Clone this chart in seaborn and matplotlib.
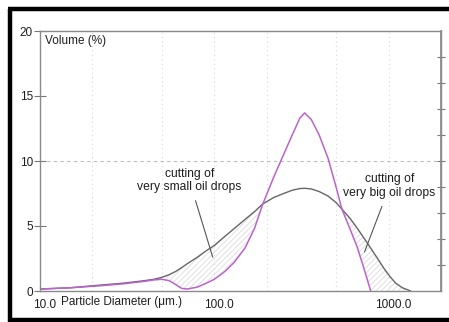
import matplotlib

matplotlib.use("Agg")

import matplotlib.pyplot as plt
import matplotlib.transforms as mtransforms
import numpy as np
import pandas as pd
import seaborn as sns
from matplotlib.lines import Line2D
from matplotlib.ticker import FixedLocator, NullFormatter

# particle size distribution
diameter = [10, 15, 22, 30, 40, 45, 50, 55, 60, 65, 70, 80, 90, 100, 115, 130, 150,
            170, 190, 220, 250, 280, 310, 330, 360, 400, 450, 500, 540, 600, 660, 720,
            790, 860, 940, 1020, 1100, 1200, 1340]
volume_before = [0.15, 0.25, 0.45, 0.6, 0.8, 0.9, 1.05, 1.25, 1.5, 1.8, 2.1, 2.6, 3.1,
                 3.5, 4.2, 4.8, 5.5, 6.1, 6.7, 7.2, 7.5, 7.75, 7.88, 7.9, 7.85, 7.65, 7.3,
                 6.8, 6.3, 5.6, 4.85, 4.1, 3.3, 2.55, 1.75, 1.1, 0.6, 0.25, 0.0]
volume_after = [0.15, 0.25, 0.4, 0.55, 0.75, 0.85, 0.9, 0.8, 0.5, 0.2, 0.15, 0.3, 0.6,
                0.9, 1.5, 2.2, 3.3, 4.8, 6.7, 8.8, 10.5, 12.0, 13.3, 13.7, 13.2, 12.0, 10.2,
                8.0, 6.3, 4.8, 3.4, 1.8, 0.0, None, None, None, None, None, None]

x_ticks = [10, 100, 1000]
x_tick_labels = ["10.0", "100.0", "1000.0"]
x_grid = [20, 50, 100, 200, 500, 1000]

df = pd.DataFrame({"diameter": diameter, "before": volume_before,
                   "after": pd.to_numeric(pd.Series(volume_after), errors="coerce")})

sns.set_theme(style="white")
plt.rcParams["font.family"] = ["Liberation Sans", "DejaVu Sans"]
plt.rcParams["hatch.linewidth"] = 0.6

fig = plt.figure(figsize=(4.49, 3.22), dpi=100)
ax = fig.add_axes([40 / 449, 31 / 322, 401 / 449, 260 / 322])

grey_line = "#666666"
violet = "#bb62cc"
text_col = "#1e1e1e"

# hatched areas between the two curves
d = df["diameter"].to_numpy(float)
g = df["before"].to_numpy(float)
m = np.nan_to_num(df["after"].to_numpy(float), nan=0.0)
for mask in [(d >= 45) & (d <= 200), (d >= 530)]:
    ax.fill_between(d, m, g, where=mask & (g >= m), interpolate=True,
                    facecolor="none", edgecolor="#dcdcdc", hatch="//////", linewidth=0)

sns.lineplot(data=df, x="diameter", y="before", ax=ax, color=grey_line, linewidth=1.0)
sns.lineplot(data=df.dropna(), x="diameter", y="after", ax=ax, color=violet, linewidth=1.1)

ax.set_xscale("log")
ax.set_xlim(10, 2000)
ax.set_ylim(0, 20)

for gx in x_grid:
    ax.axvline(gx, color="#d8d8d8", linestyle=(0, (1, 3)), linewidth=0.8, zorder=0)
ax.axhline(10, color="#bdbdbd", linestyle=(0, (3, 3)), linewidth=0.8, zorder=0)

ax.xaxis.set_major_locator(FixedLocator(x_ticks))
ax.xaxis.set_minor_locator(FixedLocator([]))
ax.set_xticklabels(x_tick_labels)
ax.tick_params(axis="x", which="both", length=0, pad=6, labelsize=8.5, labelcolor=text_col)
offset = mtransforms.ScaledTranslation(5 / 100, 0, fig.dpi_scale_trans)
for lab in ax.get_xticklabels():
    lab.set_transform(lab.get_transform() + offset)

ax.set_yticks([0, 5, 10, 15, 20])
ax.set_yticks(np.arange(0, 21, 1), minor=True)
ax.tick_params(axis="y", which="major", direction="inout", length=8, width=0.8,
               color="#777777", labelsize=8.5, labelcolor=text_col, pad=1)
ax.tick_params(axis="y", which="minor", direction="inout", length=5, width=0.8,
               color="#777777")
ax.tick_params(axis="y", left=True)

right = ax.secondary_yaxis("right")
right.set_yticks(np.arange(2, 20, 2))
right.yaxis.set_major_formatter(NullFormatter())
right.tick_params(direction="inout", length=6, width=0.8, color="#777777")
right.spines["right"].set_color("#8a8a8a")

for sp in ax.spines.values():
    sp.set_color("#8a8a8a")
    sp.set_linewidth(1.0)
    sp.set_visible(True)

ax.set_xlabel("Particle Diameter (μm.)", fontsize=8.5, color=text_col)
ax.xaxis.set_label_coords(0.204, -0.042)
ax.xaxis.label.set_va("center")
ax.set_ylabel("")
ax.text(0.012, 0.985, "Volume (%)", transform=ax.transAxes, ha="left", va="top",
        fontsize=8.5, color=text_col)

ax.annotate("cutting of\nvery small oil drops", xy=(98, 2.6), xytext=(72, 8.5),
            ha="center", va="center", fontsize=8.7, color=text_col, linespacing=1.2,
            arrowprops=dict(arrowstyle="-", color="#555555", linewidth=0.8,
                            shrinkA=3, shrinkB=0))
ax.annotate("cutting of\nvery big oil drops", xy=(728, 3.0), xytext=(1014, 8.05),
            ha="center", va="center", fontsize=8.7, color=text_col, linespacing=1.2,
            arrowprops=dict(arrowstyle="-", color="#555555", linewidth=0.8,
                            shrinkA=3, shrinkB=0))

# thick outer frame, open on the right edge
frame = dict(transform=fig.transFigure, color="black", linewidth=3.2,
             solid_capstyle="butt")
fig.add_artist(Line2D([10 / 449, 10 / 449], [0, 1 - 8.5 / 322], **frame))
fig.add_artist(Line2D([8 / 449, 0.999], [1 - 8.5 / 322, 1 - 8.5 / 322], **frame))
fig.add_artist(Line2D([8 / 449, 0.999], [2 / 322, 2 / 322], **frame))

fig.savefig("out.png", dpi=100, facecolor="white")
